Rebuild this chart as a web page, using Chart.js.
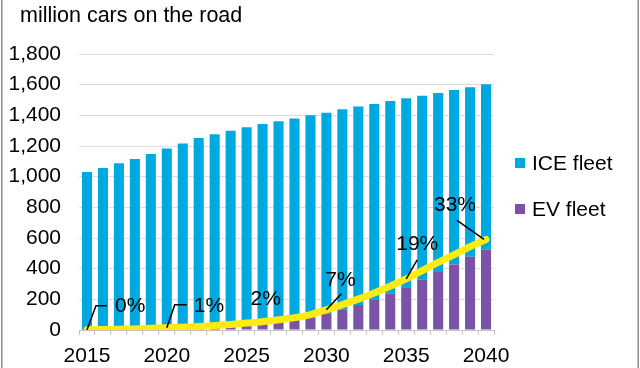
<!DOCTYPE html>
<html>
<head>
<meta charset="utf-8">
<script src="https://cdn.jsdelivr.net/npm/chart.js@4/dist/chart.umd.min.js"></script>
<style>
  html, body { margin: 0; padding: 0; background: #fff; }
  #wrap { width: 640px; height: 368px; position: relative; }
</style>
</head>
<body>
<div id="wrap"><canvas id="c" width="640" height="368"></canvas></div>
<script>
// ---- data ----
const years = ['2015','2016','2017','2018','2019','2020','2021','2022','2023','2024','2025','2026','2027',
               '2028','2029','2030','2031','2032','2033','2034','2035','2036','2037','2038','2039','2040'];
const xTickLabels = ['2015','2020','2025','2030','2035','2040'];
const evFleet  = [1, 2, 3, 4, 7, 9, 12, 16, 20, 26, 33, 40, 50, 62, 78, 104, 132, 163, 198, 237, 279, 328, 378, 428, 478, 526];
const iceFleet = [1029, 1055, 1084, 1111, 1141, 1174, 1205, 1236, 1256, 1274, 1289, 1303, 1311, 1318, 1322,
                  1313, 1307, 1294, 1276, 1257, 1232, 1200, 1168, 1138, 1105, 1077];
const evShare  = [0.1, 0.2, 0.3, 0.4, 0.6, 0.8, 1.0, 1.3, 1.6, 2.0, 2.5, 3.0, 3.7, 4.5, 5.6, 7.3, 9.2, 11.2,
                  13.4, 15.9, 18.5, 21.5, 24.5, 27.3, 30.2, 32.8];
const shareLabelYears = ['2015','2020','2025','2030','2035','2040'];
const shareLabelTexts = ['0%','1%','2%','7%','19%','33%'];
const seriesNames = ['EV fleet', 'ICE fleet'];
const titleText = 'million cars on the road';

// ---- styles ----
const BLUE = '#00A8E0', PURPLE = '#7B52A6', YELLOW = '#FFEB0F';
const FONT = '"Liberation Sans", Arial, sans-serif';
// label placement offsets relative to the line point (style only)
const labelStyle = [
  { leader: [[0,0],[9,-24],[20,-24]], tx: 28, ty: -24, align: 'left' },
  { leader: [[0,0],[8,-23],[20,-23]], tx: 27, ty: -22, align: 'left' },
  { leader: null, tx: 4, ty: -24, align: 'left' },
  { leader: [[0,0],[15,-16]], tx: 14, ty: -30, align: 'center' },
  { leader: [[0,0],[11,-19]], tx: 11, ty: -35, align: 'center' },
  { leader: [[-2,0],[-29,-19]], tx: -31, ty: -34, align: 'center' }
];

const decor = {
  id: 'decor',
  afterDatasetsDraw(chart) {
    const ctx = chart.ctx;
    const meta = chart.getDatasetMeta(2);
    ctx.save();
    ctx.font = '21px ' + FONT;
    ctx.fillStyle = '#000';
    ctx.strokeStyle = '#000';
    ctx.lineWidth = 1.5;
    ctx.textBaseline = 'middle';
    shareLabelYears.forEach((yr, k) => {
      const idx = years.indexOf(yr);
      const p = meta.data[idx];
      const s = labelStyle[k];
      if (s.leader) {
        ctx.beginPath();
        s.leader.forEach((o, j) => {
          if (j === 0) ctx.moveTo(p.x + o[0], p.y + o[1]);
          else ctx.lineTo(p.x + o[0], p.y + o[1]);
        });
        ctx.stroke();
      }
      ctx.textAlign = s.align;
      ctx.fillText(shareLabelTexts[k], p.x + s.tx, p.y + s.ty);
    });
    ctx.restore();
  },
  afterDraw(chart) {
    const ctx = chart.ctx;
    ctx.save();
    // title
    ctx.fillStyle = '#000';
    ctx.font = '21.5px ' + FONT;
    ctx.textBaseline = 'middle';
    ctx.textAlign = 'left';
    ctx.fillText(titleText, 20, 16);
    // legend
    const items = [
      { name: seriesNames[1], color: BLUE, y: 163 },
      { name: seriesNames[0], color: PURPLE, y: 209 }
    ];
    ctx.font = '21px ' + FONT;
    items.forEach(it => {
      ctx.fillStyle = it.color;
      ctx.fillRect(515, it.y - 5, 10, 10);
      ctx.fillStyle = '#000';
      ctx.fillText(it.name, 532, it.y + 1);
    });
    // frame
    ctx.fillStyle = '#8c8c8c';
    ctx.fillRect(1, 0, 1.5, 368);
    ctx.fillRect(637.5, 0, 1.5, 368);
    ctx.restore();
  }
};

new Chart(document.getElementById('c'), {
  type: 'bar',
  data: {
    labels: years,
    datasets: [
      { label: seriesNames[0], data: evFleet, backgroundColor: PURPLE, stack: 'fleet', order: 1,
        barPercentage: 0.63, categoryPercentage: 1.0, yAxisID: 'y' },
      { label: seriesNames[1], data: iceFleet, backgroundColor: BLUE, stack: 'fleet', order: 1,
        barPercentage: 0.63, categoryPercentage: 1.0, yAxisID: 'y' },
      { type: 'line', label: 'EV share', data: evShare, borderColor: YELLOW, borderWidth: 7,
        pointRadius: 0, tension: 0.4, cubicInterpolationMode: 'monotone', fill: false,
        order: 0, yAxisID: 'y2', borderCapStyle: 'round' }
    ]
  },
  options: {
    responsive: false,
    animation: false,
    layout: { padding: { top: 54, right: 146, left: 0, bottom: 0 } },
    plugins: { legend: { display: false }, tooltip: { enabled: false }, title: { display: false } },
    scales: {
      x: {
        stacked: true,
        grid: { display: true, drawOnChartArea: false, drawTicks: true, tickLength: 5, color: '#c4c4c4', offset: true },
        border: { display: true, color: '#c4c4c4', width: 1 },
        ticks: {
          autoSkip: false, maxRotation: 0, padding: 9, color: '#000',
          font: { family: FONT, size: 21 },
          callback: function(v, i) { const l = years[i]; return xTickLabels.includes(l) ? l : ''; }
        },
        afterFit(scale) { scale.height = 38; }
      },
      y: {
        stacked: true, min: 0, max: 1800,
        grid: { color: '#dcdcdc', drawTicks: false, lineWidth: 1 },
        border: { display: false },
        ticks: { stepSize: 200, padding: 18, color: '#000', font: { family: FONT, size: 21 } },
        afterFit(scale) { scale.width = 79; }
      },
      y2: { display: false, min: 0, max: 100, stacked: false }
    }
  },
  plugins: [decor]
});
</script>
</body>
</html>
